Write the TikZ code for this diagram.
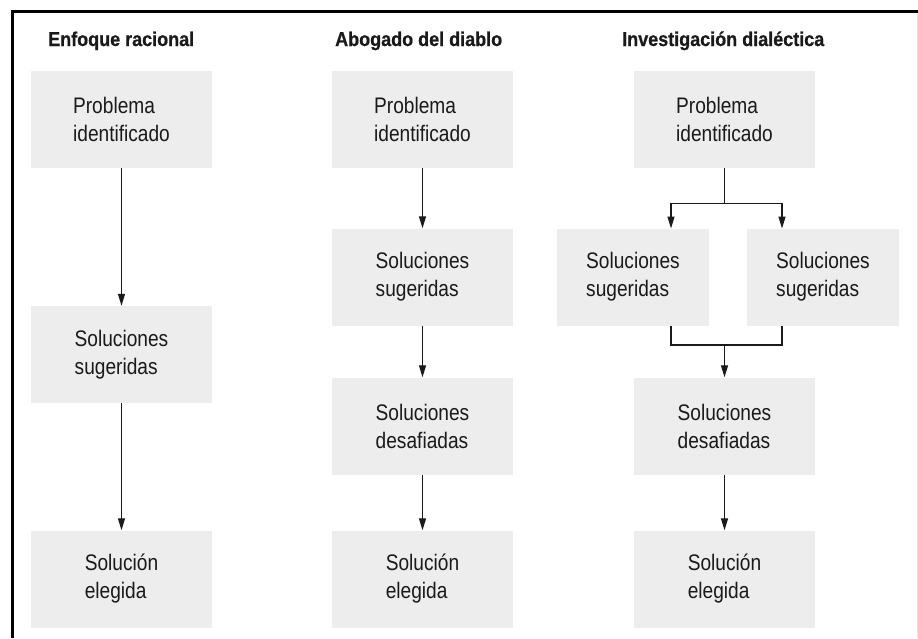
\documentclass[tikz,border=0pt]{standalone}
\usepackage{fontspec}
\newfontfamily\bodyfont[FakeStretch=0.85]{Liberation Sans}
\newfontfamily\titlefont[FakeStretch=0.9,FakeBold=0.6]{Liberation Sans}
\usetikzlibrary{arrows.meta}
\definecolor{boxgray}{HTML}{EDEDED}
\definecolor{ink}{HTML}{1A1A1A}
\tikzset{
  stepbox/.style={fill=boxgray, minimum width=181pt, minimum height=97pt, inner sep=0pt,
    align=left, text=ink, font=\bodyfont\fontsize{22.5}{28}\selectfont},
  smallbox/.style={stepbox, minimum width=152pt},
  ttl/.style={anchor=base west, inner sep=0pt, text=ink, font=\titlefont\bfseries\fontsize{20}{24}\selectfont},
  arr/.style={draw=ink, line width=1.2pt, -{Triangle[length=12pt,width=7pt]}},
  ln/.style={draw=ink, line width=1.2pt}
}
\begin{document}
\begin{tikzpicture}[x=1pt,y=-1pt]
\useasboundingbox (0,0) rectangle (918,638);
% frame
\draw[gray!20, line width=0.8pt] (917,11) -- (917,638);
\draw[black, line width=2.8pt] (12.4,638) -- (12.4,11.3) -- (918,11.3);
% titles
\node[ttl] (t1) at (48,46) {Enfoque racional};
\node[ttl] (t2) at (335,46) {Abogado del diablo};
\node[ttl] (t3) at (622,46) {Investigación dialéctica};
% column 1
\node[stepbox] (p1) at (121.5,119.5) {Problema\\identificado};
\node[stepbox] (s1) at (121.5,354.5) {Soluciones\\sugeridas};
\node[stepbox] (e1) at (121.5,579) {Solución\\elegida};
\draw[arr] (p1) -- (s1);
\draw[arr] (s1) -- (e1);
% column 2
\node[stepbox] (p2) at (422.5,119.5) {Problema\\identificado};
\node[stepbox] (s2) at (422.5,277) {Soluciones\\sugeridas};
\node[stepbox] (d2) at (422.5,426) {Soluciones\\desafiadas};
\node[stepbox] (e2) at (422.5,579) {Solución\\elegida};
\draw[arr] (p2) -- (s2);
\draw[arr] (s2) -- (d2);
\draw[arr] (d2) -- (e2);
% column 3
\node[stepbox] (p3) at (724.5,119.5) {Problema\\identificado};
\node[smallbox] (sa) at (633,277) {Soluciones\\sugeridas};
\node[smallbox] (sb) at (823,277) {Soluciones\\sugeridas};
\node[stepbox] (d3) at (724.5,426) {Soluciones\\desafiadas};
\node[stepbox] (e3) at (724.5,579) {Solución\\elegida};
\coordinate (saIn) at (671,228.5);
\coordinate (sbIn) at (782,228.5);
\coordinate (saOut) at (671,325.5);
\coordinate (sbOut) at (782,325.5);
\coordinate (mg) at (724.5,345);
\draw[arr] (p3.south) -- ++(0,35) -| (saIn);
\draw[arr] (p3.south) -- ++(0,35) -| (sbIn);
\draw[ln] (saOut) |- (mg);
\draw[ln] (sbOut) |- (mg);
\draw[arr] (mg) -- (d3.north);
\draw[arr] (d3) -- (e3);
\end{tikzpicture}
\end{document}
